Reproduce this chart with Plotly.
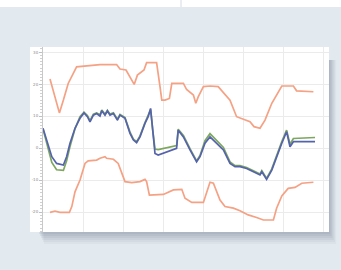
import plotly.graph_objects as go

# ---- data ----
upper_x = [1.75, 4.1, 5.1, 6.3, 8.4, 10.9, 14.25, 18.4, 19.25, 20.75, 21.9, 22.8, 23.6, 25.25, 25.9, 28.4,
           29.25, 29.7, 30.5, 31.6, 32.2, 35.1, 35.9, 37.6, 38.2, 38.8, 40.1, 41.75, 43.8, 46.75, 48.4,
           50.5, 51.75, 52.75, 54.25, 55.5, 57.2, 59.7, 62.6, 63.4, 67.6]
upper_y = [21.6, 11.0, 15.0, 20.2, 25.4, 25.6, 26.1, 26.1, 24.7, 24.4, 21.8, 19.9, 22.8, 24.4, 26.7, 26.7,
           19.2, 15.0, 15.0, 15.5, 20.2, 20.2, 18.3, 16.6, 14.0, 16.0, 19.2, 19.4, 19.2, 15.0, 9.8,
           8.75, 8.2, 6.7, 6.2, 8.75, 14.0, 19.4, 19.4, 17.9, 17.6]

lower_x = [1.75, 3.0, 4.25, 6.6, 7.2, 8.0, 9.25, 10.5, 11.3, 13.4, 14.25, 15.5, 15.9, 17.6, 18.8, 20.5,
           22.2, 24.25, 25.5, 25.9, 26.6, 28.4, 30.1, 32.6, 34.7, 35.5, 37.2, 40.1, 41.75, 42.6, 44.25,
           45.5, 47.6, 49.25, 51.3, 53.4, 55.1, 57.6, 58.4, 59.7, 61.3, 63.0, 64.7, 67.6]
lower_y = [-20.1, -19.7, -20.1, -20.1, -18.3, -13.7, -10.0, -4.8, -4.0, -3.75, -3.2, -2.7, -3.2, -3.5, -4.8, -10.5,
           -10.8, -10.5, -9.8, -10.5, -14.7, -14.7, -14.5, -13.1, -12.9, -15.7, -17.0, -17.0, -10.7, -11.0, -16.25,
           -18.3, -18.8, -19.6, -20.9, -21.7, -22.5, -22.5, -18.8, -15.0, -12.6, -12.3, -11.0, -10.7]

mid_x = [0, 0.9, 2.2, 3.4, 5.1, 5.9, 6.75, 8.0, 9.25, 10.25, 11.1, 11.75, 12.6, 13.4, 14.25, 14.7, 15.5,
         16.1, 16.75, 17.6, 18.6, 19.25, 20.5, 21.75, 22.6, 23.4, 24.25, 25.5, 26.3, 26.9, 27.4, 28.0,
         28.8, 30.9, 33.4, 33.8, 35.1, 36.75, 38.4, 39.25, 40.5, 41.75, 43.4, 45.1, 46.75, 48.0, 49.25,
         50.9, 52.6, 54.25, 54.7, 55.9, 57.2, 58.4, 59.7, 60.9, 61.75, 62.6, 68.0]
blue_y = [6.2, 2.5, -2.7, -4.8, -5.3, -2.7, 1.5, 6.2, 9.3, 11.0, 9.8, 8.2, 10.3, 10.8, 10.0, 11.7, 10.3,
          11.6, 10.3, 10.8, 8.75, 10.3, 9.3, 4.6, 2.5, 1.7, 3.5, 7.7, 9.8, 12.4, 5.6, -1.7,
          -2.2, -1.2, -0.1, 5.6, 3.5, -0.6, -4.3, -2.7, 1.5, 3.5, 1.5, -0.6, -4.8, -5.8, -5.8,
          -6.4, -7.4, -8.4, -7.4, -9.8, -6.9, -2.7, 1.5, 5.1, 0.4, 2.0, 2.0]
green_y = [6.0, 2.0, -4.5, -6.8, -7.0, -4.0, 0.5, 6.0, 9.8, 11.2, 10.2, 8.6, 10.6, 11.0, 10.4, 11.9, 10.6,
           11.8, 10.6, 11.0, 9.0, 10.5, 9.5, 5.0, 2.8, 2.0, 3.8, 8.0, 10.0, 12.0, 6.0, -0.3,
           -0.5, 0.0, 0.8, 5.9, 3.9, -0.2, -4.0, -2.3, 2.3, 4.5, 2.3, 0.2, -4.3, -5.5, -5.5,
           -6.1, -7.1, -8.1, -7.1, -9.5, -6.5, -2.2, 2.0, 5.6, 1.2, 3.0, 3.3]

y_ticks = [30, 20, 10, 0, -10, -20]
y_ticktext = ["30", "20", "10", "0", "-10", "-20"]

ORANGE = "#f5a184"
BLUE = "#5563ad"
GREEN = "#7da75e"

fig = go.Figure()
fig.add_trace(go.Scatter(x=upper_x, y=upper_y, mode="lines", line=dict(color=ORANGE, width=1.7)))
fig.add_trace(go.Scatter(x=lower_x, y=lower_y, mode="lines", line=dict(color=ORANGE, width=1.7)))
fig.add_trace(go.Scatter(x=mid_x, y=green_y, mode="lines", line=dict(color=GREEN, width=1.7)))
fig.add_trace(go.Scatter(x=mid_x, y=blue_y, mode="lines", line=dict(color=BLUE, width=1.7)))

W, H = 341, 270
L, R, T, B = 43, 12, 47, 38
pw, ph = W - L - R, H - T - B

def px2paper_x(px):
    return (px - L) / pw

def py2paper_y(py):
    return 1 - (py - T) / ph

shapes = []
# top white strip and divider
shapes.append(dict(type="rect", xref="paper", yref="paper", layer="below",
                   x0=px2paper_x(0), x1=px2paper_x(W), y0=py2paper_y(7), y1=py2paper_y(0),
                   fillcolor="white", line=dict(width=0)))
shapes.append(dict(type="line", xref="paper", yref="paper", layer="below",
                   x0=px2paper_x(181), x1=px2paper_x(181), y0=py2paper_y(7), y1=py2paper_y(0),
                   line=dict(color="#d4dce4", width=1)))
# shadow
for i, op in enumerate([0.05, 0.06, 0.07, 0.08, 0.09, 0.1]):
    d = 12 - 2 * i
    shapes.append(dict(type="rect", xref="paper", yref="paper", layer="below",
                       x0=px2paper_x(38 + d / 2), x1=px2paper_x(329 + d * 0.6),
                       y0=py2paper_y(232 + d), y1=py2paper_y(60),
                       fillcolor="rgba(90,105,125,%.2f)" % op, line=dict(width=0)))
# white card
shapes.append(dict(type="rect", xref="paper", yref="paper", layer="below",
                   x0=px2paper_x(30), x1=px2paper_x(329), y0=py2paper_y(232), y1=py2paper_y(47),
                   fillcolor="white", line=dict(width=0)))

fig.update_layout(
    width=W, height=H,
    margin=dict(l=L, r=R, t=T, b=B),
    paper_bgcolor="#e2e9ef",
    plot_bgcolor="white",
    showlegend=False,
    shapes=shapes,
    xaxis=dict(range=[0, (W - L - R) / 4.0], dtick=10, tick0=0, showgrid=True, gridcolor="#ebebeb",
               gridwidth=1, showticklabels=False, zeroline=False, showline=False, ticks=""),
    yaxis=dict(range=[-26.25, 31.6], tickvals=y_ticks, ticktext=y_ticktext, showgrid=True,
               gridcolor="#ebebeb", gridwidth=1, zeroline=False, showline=True, linecolor="#c8c8c8",
               linewidth=1, ticks="outside", ticklen=3, tickcolor="#c0c0c0",
               minor=dict(ticks="outside", dtick=1, ticklen=2, tickcolor="#d0d0d0", showgrid=False),
               tickfont=dict(size=4, color="#888888", family="DejaVu Sans")),
)

fig.write_html("out.html", config={"displayModeBar": False},
               post_script="document.body.style.margin='0';document.body.style.overflow='hidden';")
